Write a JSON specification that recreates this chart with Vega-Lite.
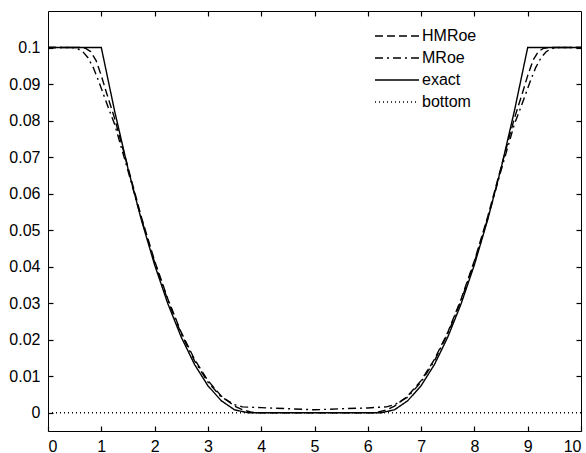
{
  "$schema": "https://vega.github.io/schema/vega-lite/v6.json",
  "width": 533,
  "height": 420,
  "autosize": "none",
  "padding": {"left": 48, "top": 11, "right": 5, "bottom": 22},
  "background": "white",
  "config": {
    "view": {"stroke": "black", "strokeWidth": 1},
    "axis": {
      "domain": false, "ticks": true, "tickColor": "black", "tickOpacity": 1, "labelColor": "black",
      "labelFont": "Liberation Sans", "labelFontSize": 16, "grid": false, "zindex": 1,
      "tickSize": 5, "tickWidth": 1.2, "title": null, "offset": -5
    },
    "legend": {"labelFont": "Liberation Sans", "labelFontSize": 16, "labelColor": "black"}
  },
  "data": {"values": [
    {"s":"bottom","x":0,"y":0},{"s":"bottom","x":10,"y":0},
    {"s":"exact","x":0,"y":0.1},{"s":"exact","x":1,"y":0.1},{"s":"exact","x":1.25,"y":0.0826},{"s":"exact","x":1.5,"y":0.0669},{"s":"exact","x":1.75,"y":0.0529},{"s":"exact","x":2,"y":0.0405},{"s":"exact","x":2.25,"y":0.0298},{"s":"exact","x":2.5,"y":0.0207},{"s":"exact","x":2.75,"y":0.0132},{"s":"exact","x":3,"y":0.0074},{"s":"exact","x":3.25,"y":0.0033},{"s":"exact","x":3.5,"y":0.0008},{"s":"exact","x":3.75,"y":0},{"s":"exact","x":6.25,"y":0},{"s":"exact","x":6.5,"y":0.0008},{"s":"exact","x":6.75,"y":0.0033},{"s":"exact","x":7,"y":0.0074},{"s":"exact","x":7.25,"y":0.0132},{"s":"exact","x":7.5,"y":0.0207},{"s":"exact","x":7.75,"y":0.0298},{"s":"exact","x":8,"y":0.0405},{"s":"exact","x":8.25,"y":0.0529},{"s":"exact","x":8.5,"y":0.0669},{"s":"exact","x":8.75,"y":0.0826},{"s":"exact","x":9,"y":0.1},{"s":"exact","x":10,"y":0.1},
    {"s":"HMRoe","x":0,"y":0.1},{"s":"HMRoe","x":0.6,"y":0.1},{"s":"HMRoe","x":0.7,"y":0.0998},{"s":"HMRoe","x":0.8,"y":0.0989},{"s":"HMRoe","x":0.9,"y":0.0965},{"s":"HMRoe","x":1,"y":0.0923},{"s":"HMRoe","x":1.1,"y":0.0875},{"s":"HMRoe","x":1.25,"y":0.0806},{"s":"HMRoe","x":1.5,"y":0.0672},{"s":"HMRoe","x":1.75,"y":0.0537},{"s":"HMRoe","x":2,"y":0.0416},{"s":"HMRoe","x":2.25,"y":0.0311},{"s":"HMRoe","x":2.5,"y":0.022},{"s":"HMRoe","x":2.75,"y":0.0146},{"s":"HMRoe","x":3,"y":0.0088},{"s":"HMRoe","x":3.25,"y":0.0046},{"s":"HMRoe","x":3.5,"y":0.0018},{"s":"HMRoe","x":3.65,"y":0.0008},{"s":"HMRoe","x":3.8,"y":0.0002},{"s":"HMRoe","x":3.9,"y":0},
    {"s":"HMRoe","x":6.1,"y":0},{"s":"HMRoe","x":6.2,"y":0.0002},{"s":"HMRoe","x":6.35,"y":0.0008},{"s":"HMRoe","x":6.5,"y":0.0018},{"s":"HMRoe","x":6.75,"y":0.0046},{"s":"HMRoe","x":7,"y":0.0088},{"s":"HMRoe","x":7.25,"y":0.0146},{"s":"HMRoe","x":7.5,"y":0.022},{"s":"HMRoe","x":7.75,"y":0.0311},{"s":"HMRoe","x":8,"y":0.0416},{"s":"HMRoe","x":8.25,"y":0.0537},{"s":"HMRoe","x":8.5,"y":0.0672},{"s":"HMRoe","x":8.75,"y":0.0806},{"s":"HMRoe","x":8.9,"y":0.0875},{"s":"HMRoe","x":9,"y":0.0923},{"s":"HMRoe","x":9.1,"y":0.0965},{"s":"HMRoe","x":9.2,"y":0.0989},{"s":"HMRoe","x":9.3,"y":0.0998},{"s":"HMRoe","x":9.4,"y":0.1},{"s":"HMRoe","x":10,"y":0.1},
    {"s":"MRoe","x":0,"y":0.1},{"s":"MRoe","x":0.45,"y":0.1},{"s":"MRoe","x":0.55,"y":0.0997},{"s":"MRoe","x":0.65,"y":0.0989},{"s":"MRoe","x":0.75,"y":0.0972},{"s":"MRoe","x":0.85,"y":0.0945},{"s":"MRoe","x":0.95,"y":0.0908},{"s":"MRoe","x":1.05,"y":0.0868},{"s":"MRoe","x":1.15,"y":0.0828},{"s":"MRoe","x":1.25,"y":0.079},{"s":"MRoe","x":1.5,"y":0.0663},{"s":"MRoe","x":1.75,"y":0.0532},{"s":"MRoe","x":2,"y":0.0412},{"s":"MRoe","x":2.25,"y":0.0307},{"s":"MRoe","x":2.5,"y":0.0216},{"s":"MRoe","x":2.75,"y":0.0142},{"s":"MRoe","x":3,"y":0.0084},{"s":"MRoe","x":3.25,"y":0.0043},{"s":"MRoe","x":3.5,"y":0.0022},{"s":"MRoe","x":3.65,"y":0.0016},{"s":"MRoe","x":3.8,"y":0.0015},{"s":"MRoe","x":4,"y":0.0014},{"s":"MRoe","x":4.5,"y":0.0011},{"s":"MRoe","x":5,"y":0.0008},
    {"s":"MRoe","x":5.5,"y":0.0011},{"s":"MRoe","x":6,"y":0.0013},{"s":"MRoe","x":6.2,"y":0.0015},{"s":"MRoe","x":6.35,"y":0.0016},{"s":"MRoe","x":6.5,"y":0.0022},{"s":"MRoe","x":6.75,"y":0.0043},{"s":"MRoe","x":7,"y":0.0084},{"s":"MRoe","x":7.25,"y":0.0142},{"s":"MRoe","x":7.5,"y":0.0216},{"s":"MRoe","x":7.75,"y":0.0307},{"s":"MRoe","x":8,"y":0.0412},{"s":"MRoe","x":8.25,"y":0.0532},{"s":"MRoe","x":8.5,"y":0.0663},{"s":"MRoe","x":8.75,"y":0.079},{"s":"MRoe","x":8.85,"y":0.0828},{"s":"MRoe","x":8.95,"y":0.0868},{"s":"MRoe","x":9.05,"y":0.0908},{"s":"MRoe","x":9.15,"y":0.0945},{"s":"MRoe","x":9.25,"y":0.0972},{"s":"MRoe","x":9.35,"y":0.0989},{"s":"MRoe","x":9.45,"y":0.0997},{"s":"MRoe","x":9.55,"y":0.1},{"s":"MRoe","x":10,"y":0.1}
  ]},
  "resolve": {"axis": {"x": "independent", "y": "independent"}},
  "layer": [
    {
      "mark": {"type": "line", "color": "black", "strokeWidth": 1.4, "clip": true},
      "encoding": {
        "x": {"field": "x", "type": "quantitative", "scale": {"domain": [0, 10], "nice": false},
              "axis": {"orient": "bottom", "values": [0,1,2,3,4,5,6,7,8,9,10], "format": "d", "labelPadding": 7}},
        "y": {"field": "y", "type": "quantitative", "scale": {"domain": [-0.005, 0.11], "nice": false, "zero": false},
              "axis": {"orient": "left", "values": [0,0.01,0.02,0.03,0.04,0.05,0.06,0.07,0.08,0.09,0.1], "format": "~g", "labelPadding": 8}},
        "detail": {"field": "s"},
        "strokeDash": {
          "field": "s", "type": "nominal",
          "scale": {"domain": ["HMRoe", "MRoe", "exact", "bottom"], "range": [[8, 4], [8, 4, 2, 4], [1, 0], [1, 3]]},
          "legend": {
            "title": null, "orient": "none", "legendX": 341, "legendY": 17,
            "symbolType": "M-4,0H4", "symbolSize": 121, "symbolStrokeWidth": 1.4,
            "symbolFillColor": "transparent", "symbolOpacity": 1,
            "symbolStrokeColor": "black", "labelOffset": 17, "rowPadding": 6
          }
        }
      }
    },
    {
      "mark": {"type": "line", "opacity": 0},
      "encoding": {
        "x": {"field": "x", "type": "quantitative",
              "axis": {"orient": "top", "values": [1,2,3,4,5,6,7,8,9], "labels": false}},
        "y": {"field": "y", "type": "quantitative",
              "axis": {"orient": "right", "values": [0.01,0.02,0.03,0.04,0.05,0.06,0.07,0.08,0.09,0.1], "labels": false}},
        "detail": {"field": "s"}
      }
    }
  ]
}
